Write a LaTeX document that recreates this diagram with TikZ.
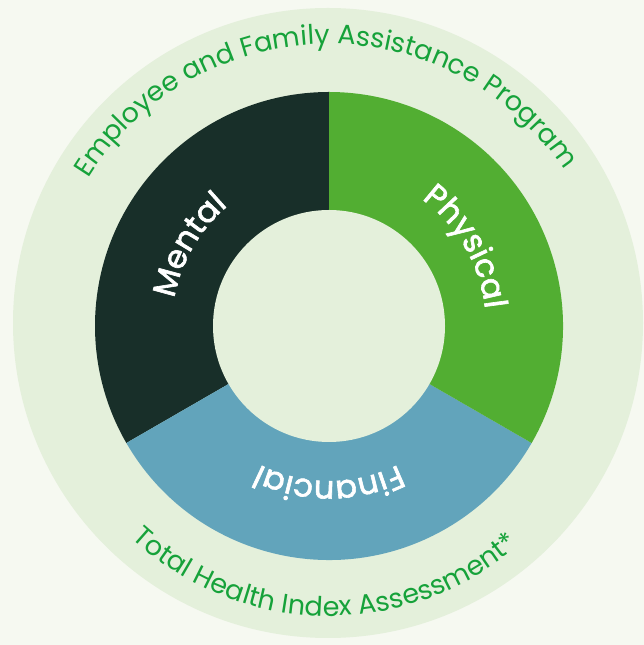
\documentclass[tikz,border=0pt]{standalone}
\usepackage{fontspec}
\setmainfont{Poppins}
\newfontfamily\segfamily{Poppins}[FakeBold=2]
\usetikzlibrary{decorations.text}

\definecolor{pagebg}{HTML}{F6F9F1}
\definecolor{ringbg}{HTML}{E4F0DB}
\definecolor{mentalcol}{HTML}{182F29}
\definecolor{physicalcol}{HTML}{52AE32}
\definecolor{financialcol}{HTML}{62A4BB}
\definecolor{ringtext}{HTML}{16A23A}

\newcommand{\segfont}{\fontsize{32}{32}\segfamily}
\newcommand{\ringfont}{\fontsize{27}{27}\selectfont}

\tikzset{
	seglabel/.style={decorate, decoration={text along path, text align=center,
		text color=white, text={|\segfont|#1}}},
	ringlabel/.style={decorate, decoration={text along path, text align=center,
		text color=ringtext, text={|\ringfont|#1}}},
}

\begin{document}
\begin{tikzpicture}[x=1pt,y=1pt]
	%Frame
	\useasboundingbox (0,0) rectangle (644,645);
	\fill[pagebg] (0,0) rectangle (644,645);
	
	%Centre coordinates
	\coordinate (ring) at (328,322) ;
	\coordinate (centre) at (329,319) ;
	
	%Outer ring
	\fill[ringbg] (ring) circle[radius=315];
	
	%Segments
	\fill[mentalcol] (centre) -- ++(90:234) arc[start angle=90, end angle=210, radius=234] -- cycle;
	\fill[financialcol] (centre) -- ++(210:234) arc[start angle=210, end angle=330, radius=234] -- cycle;
	\fill[physicalcol] (centre) -- ++(330:234) arc[start angle=-30, end angle=90, radius=234] -- cycle;
	\fill[ringbg] (centre) circle[radius=116];
	
	%Segment text
	\path[seglabel=Mental] (centre) ++(195:157) arc[start angle=195, end angle=105, radius=157];
	\path[seglabel=Physical] (centre) ++(75:157) arc[start angle=75, end angle=-15, radius=157];
	\path[seglabel=Financial] (centre) ++(315:155) arc[start angle=315, end angle=225, radius=155];
	
	%Ring text
	\path[ringlabel=Employee and Family Assistance Program] (centre) ++(176:282) arc[start angle=176, end angle=6, radius=282];
	\path[ringlabel=Total Health Index Assessment*] (centre) ++(199:290) arc[start angle=199, end angle=339, radius=290];
\end{tikzpicture}
\end{document}
